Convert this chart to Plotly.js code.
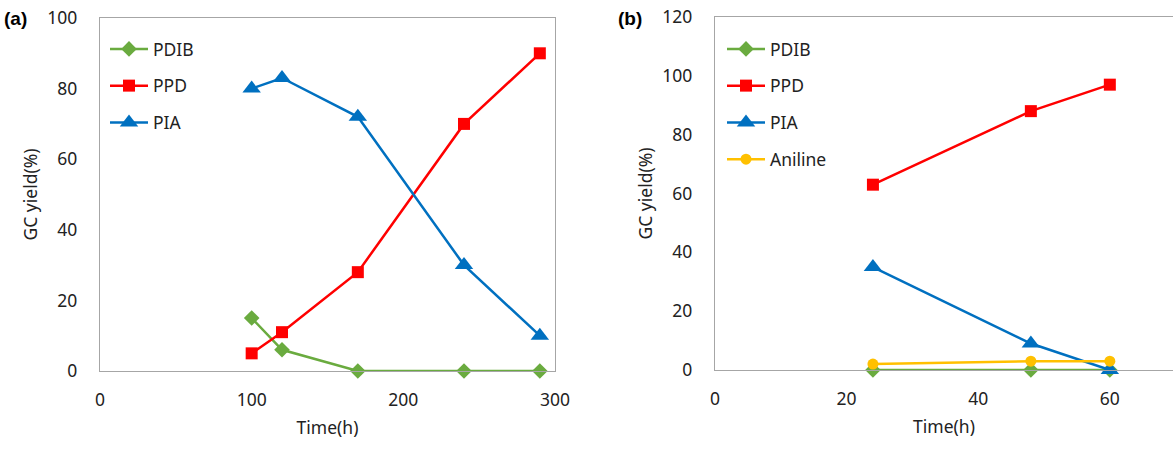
<!DOCTYPE html>
<html>
<head>
<meta charset="utf-8">
<script src="https://cdn.plot.ly/plotly-3.0.1.min.js"></script>
<style>html,body{margin:0;padding:0;background:#fff;}#chart{width:1173px;height:450px;}</style>
</head>
<body>
<div id="chart"></div>
<script>
// Panel (a)
const timeA = [100, 120, 170, 240, 290];
const pdibA = [15, 6, 0, 0, 0];
const ppdA = [5, 11, 28, 70, 90];
const piaA = [80, 83, 72, 30, 10];
// Panel (b)
const timeB = [24, 48, 60];
const pdibB = [0, 0, 0];
const ppdB = [63, 88, 97];
const piaB = [35, 9, 0];
const anilineB = [2, 3, 3];

const colors = {PDIB: "#6AAB3F", PPD: "#FF0000", PIA: "#0070C0", Aniline: "#FFC000"};
const symbols = {PDIB: "diamond", PPD: "square", PIA: "triangle-up", Aniline: "circle"};
const sizes = {PDIB: 12, PPD: 12, PIA: 16, Aniline: 11};

function tr(name, x, y, xa, ya, leg) {
  return {
    type: "scatter", mode: "lines+markers", name: name, x: x, y: y,
    xaxis: xa, yaxis: ya, legend: leg, legendgroup: leg + name,
    cliponaxis: false,
    line: {color: colors[name], width: 2.5},
    marker: {color: colors[name], symbol: symbols[name], size: sizes[name]}
  };
}

const data = [
  tr("PDIB", timeA, pdibA, "x", "y", "legend"),
  tr("PPD", timeA, ppdA, "x", "y", "legend"),
  tr("PIA", timeA, piaA, "x", "y", "legend"),
  tr("PDIB", timeB, pdibB, "x2", "y2", "legend2"),
  tr("PPD", timeB, ppdB, "x2", "y2", "legend2"),
  tr("PIA", timeB, piaB, "x2", "y2", "legend2"),
  tr("Aniline", timeB, anilineB, "x2", "y2", "legend2")
];

const fnt = {family: "Noto Sans, Open Sans, sans-serif", size: 17.5, color: "#222"};
const axisCommon = {
  showgrid: false, zeroline: false, showline: true, linecolor: "#A6A6A6", linewidth: 1.3,
  ticks: "", tickfont: fnt, automargin: false, fixedrange: true
};

const layout = {
  width: 1173, height: 450,
  margin: {l: 0, r: 0, t: 0, b: 0},
  paper_bgcolor: "#fff", plot_bgcolor: "#fff",
  font: fnt,
  showlegend: true,
  xaxis: Object.assign({}, axisCommon, {
    domain: [100/1173, 555/1173], range: [0, 300], dtick: 100, mirror: true, anchor: "y",
    ticklabelstandoff: 13,
    title: {text: "Time(h)", font: fnt, standoff: 11}
  }),
  yaxis: Object.assign({}, axisCommon, {
    domain: [1 - 371/450, 1 - 18/450], range: [0, 100], dtick: 20, mirror: true, anchor: "x",
    ticklabelstandoff: 18,
    title: {text: "GC yield(%)", font: fnt, standoff: 5}
  }),
  xaxis2: Object.assign({}, axisCommon, {
    domain: [715/1173, 1], range: [0, 69.6], tickvals: [0, 20, 40, 60], mirror: true, anchor: "y2",
    ticklabelstandoff: 13,
    title: {text: "Time(h)", font: fnt, standoff: 11}
  }),
  yaxis2: Object.assign({}, axisCommon, {
    domain: [1 - 370/450, 1 - 17/450], range: [0, 120], dtick: 20, anchor: "x2",
    ticklabelstandoff: 18,
    title: {text: "GC yield(%)", font: fnt, standoff: 5}
  }),
  legend: {
    x: 105/1173, y: 1 - 31/450, xanchor: "left", yanchor: "top",
    bgcolor: "rgba(0,0,0,0)", font: fnt, tracegroupgap: 11, itemwidth: 38
  },
  legend2: {
    x: 722/1173, y: 1 - 31/450, xanchor: "left", yanchor: "top",
    bgcolor: "rgba(0,0,0,0)", font: fnt, tracegroupgap: 11, itemwidth: 38
  },
  annotations: [
    {text: "<b>(a)</b>", xref: "paper", yref: "paper", x: 2/1173, y: 1 - 18/450, xanchor: "left", yanchor: "middle", showarrow: false,
     font: {family: "Liberation Sans, Arial, sans-serif", size: 19, color: "#000"}},
    {text: "<b>(b)</b>", xref: "paper", yref: "paper", x: 616/1173, y: 1 - 18/450, xanchor: "left", yanchor: "middle", showarrow: false,
     font: {family: "Liberation Sans, Arial, sans-serif", size: 19, color: "#000"}}
  ]
};

Plotly.newPlot("chart", data, layout, {displayModeBar: false, staticPlot: true});
</script>
</body>
</html>
